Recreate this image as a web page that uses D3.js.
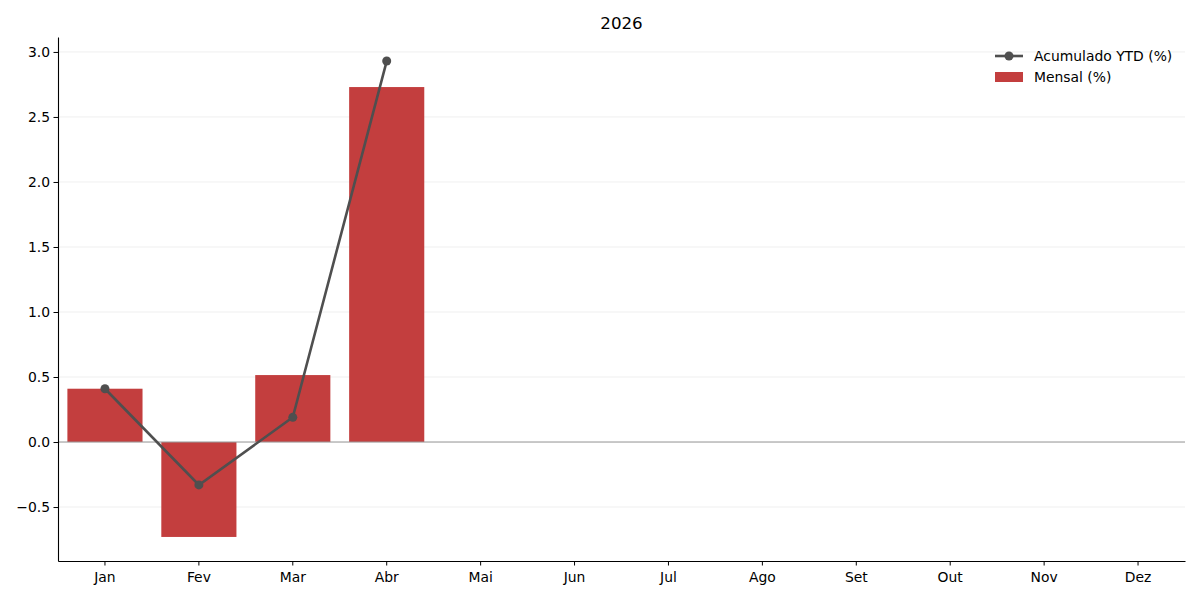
<!DOCTYPE html>
<html>
<head>
<meta charset="utf-8">
<script src="https://cdn.jsdelivr.net/npm/d3@7"></script>
<style>
body { margin: 0; background: #fff; }
text { font-family: "DejaVu Sans", sans-serif; }
</style>
</head>
<body>
<div id="chart"></div>
<script>
var months = ["Jan","Fev","Mar","Abr","Mai","Jun","Jul","Ago","Set","Out","Nov","Dez"];
var mensal = [0.41, -0.73, 0.515, 2.73];
var acumulado = [0.41, -0.33, 0.19, 2.93];
var yTicks = [-0.5, 0.0, 0.5, 1.0, 1.5, 2.0, 2.5, 3.0];

var w_svg = 1200, h_svg = 600;
var m_left = 58, m_right = 1185, m_top = 37, m_bottom = 561;
var color_bar = "#c33e3e";
var color_line = "#4f4f4f";
var fs = "13.9px";

var svg = d3.select("#chart").append("svg")
  .attr("width", w_svg)
  .attr("height", h_svg);

var x = d3.scaleBand().domain(months).range([m_left, m_right]).paddingInner(0.2).paddingOuter(0.1);
// center of each band
var xc = function(m) { return x(m) + x.bandwidth() / 2; };
var y = d3.scaleLinear().domain([-0.915, 3.115]).range([m_bottom, m_top]);

// grid
svg.append("g")
  .selectAll("line")
  .data(yTicks)
  .enter().append("line")
  .attr("x1", m_left).attr("x2", m_right)
  .attr("y1", d => y(d)).attr("y2", d => y(d))
  .style("stroke", "#ebebeb")
  .style("stroke-width", 0.8);

// bars
svg.append("g")
  .selectAll("rect")
  .data(mensal)
  .enter().append("rect")
  .attr("x", (d, i) => x(months[i]))
  .attr("y", d => y(Math.max(0, d)))
  .attr("width", x.bandwidth())
  .attr("height", d => Math.abs(y(d) - y(0)))
  .style("fill", color_bar);

// zero line
svg.append("line")
  .attr("x1", m_left).attr("x2", m_right)
  .attr("y1", y(0)).attr("y2", y(0))
  .style("stroke", "#999")
  .style("stroke-width", 1);

// line
var line = d3.line()
  .x((d, i) => xc(months[i]))
  .y(d => y(d));

svg.append("path")
  .datum(acumulado)
  .attr("d", line)
  .style("fill", "none")
  .style("stroke", color_line)
  .style("stroke-width", 2.6);

svg.append("g")
  .selectAll("circle")
  .data(acumulado)
  .enter().append("circle")
  .attr("cx", (d, i) => xc(months[i]))
  .attr("cy", d => y(d))
  .attr("r", 4.5)
  .style("fill", color_line);

// axes
var xAxis = svg.append("g")
  .attr("transform", "translate(0," + m_bottom + ")")
  .call(d3.axisBottom(x).tickSize(4.5).tickSizeOuter(0));
var yAxis = svg.append("g")
  .attr("transform", "translate(" + m_left + ",0)")
  .call(d3.axisLeft(y).tickValues(yTicks).tickSize(4.5).tickSizeOuter(0)
    .tickFormat(d => d3.format(".1f")(d).replace("-", "\u2212")));

[xAxis, yAxis].forEach(function(a) {
  a.select(".domain").style("stroke", "#000").style("stroke-width", 1.1);
  a.selectAll(".tick line").style("stroke", "#000").style("stroke-width", 1);
  a.selectAll("text").style("font-size", fs).style("fill", "#000")
    .style("font-family", "DejaVu Sans, sans-serif");
});
xAxis.selectAll("text").attr("dy", "1.0em");
yAxis.selectAll("text").attr("x", -8);

// title
svg.append("text")
  .attr("x", (m_left + m_right) / 2)
  .attr("y", 29)
  .attr("text-anchor", "middle")
  .style("font-size", "16.7px")
  .text("2026");

// legend
var lg = svg.append("g").attr("transform", "translate(995,56)");
lg.append("line").attr("x1", 0).attr("x2", 28).attr("y1", 0).attr("y2", 0)
  .style("stroke", color_line).style("stroke-width", 2.6);
lg.append("circle").attr("cx", 14).attr("cy", 0).attr("r", 4.5).style("fill", color_line);
lg.append("text").attr("x", 39).attr("y", 5).style("font-size", fs).text("Acumulado YTD (%)");
lg.append("rect").attr("x", 0).attr("y", 16).attr("width", 28).attr("height", 10).style("fill", color_bar);
lg.append("text").attr("x", 39).attr("y", 26).style("font-size", fs).text("Mensal (%)");
</script>
</body>
</html>
